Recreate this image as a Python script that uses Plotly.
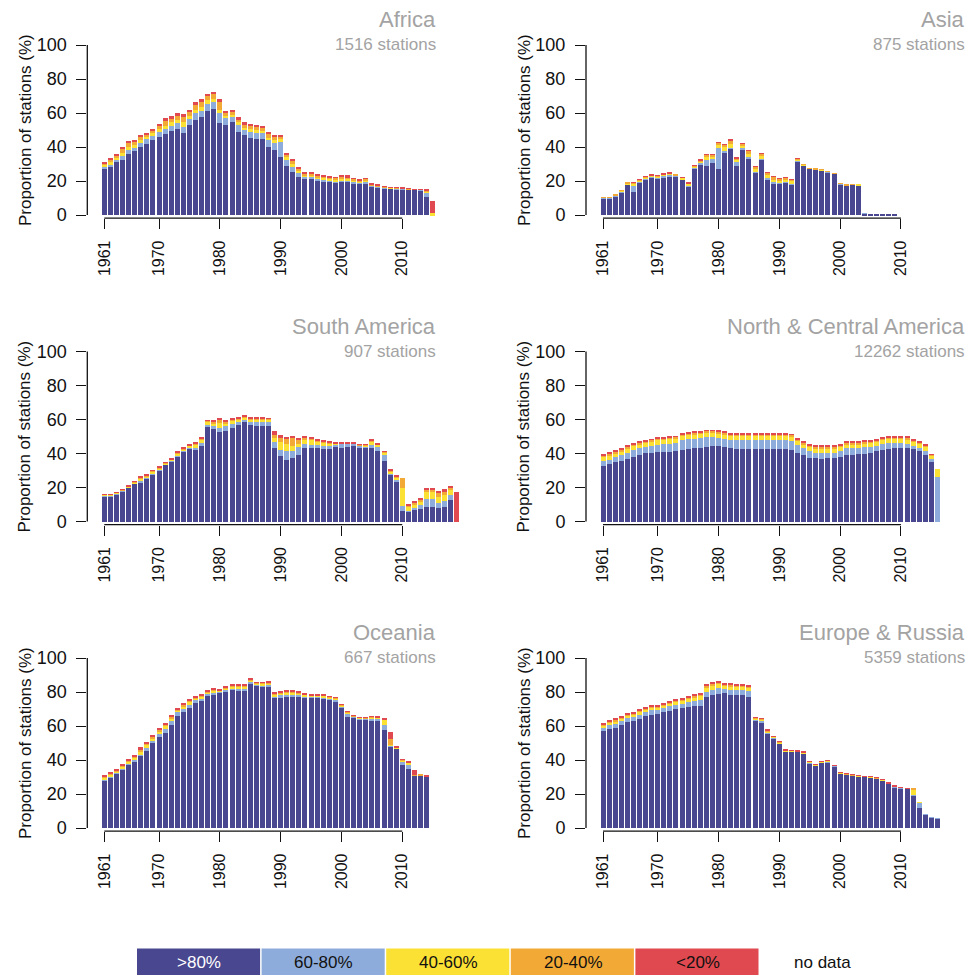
import plotly.graph_objects as go

# ---------------- data (percent of stations per class) ----------------
CATS = [">80%", "60-80%", "40-60%", "20-40%", "<20%"]
COLORS = ["#48478f", "#8eacdb", "#fbe134", "#f3a935", "#e0494f"]

africa_start = 1961
africa_d = [27, 28.5, 31, 32.5, 36, 37.5, 40, 42, 44, 46, 47.5, 49.5, 50.5, 48.5, 53, 56, 57.5, 61.5, 62.5, 54,
            53, 55, 49, 47, 45.5, 45, 44.5, 40, 38, 34, 29, 25.5, 22.5, 21, 21.5, 20.5, 20, 19.5, 19, 19.5,
            19.5, 18.5, 18.5, 18.5, 16.5, 16, 15.8, 15.5, 15.3, 15.2, 15, 14.8, 14.6, 10.5, 0]
africa_l = [1.5, 1.5, 1.5, 2.5, 2.5, 2, 2.5, 2.5, 2.5, 3, 3, 3, 3.5, 3.5, 3.5, 4, 4, 4, 4, 6,
            4, 2.5, 4, 3, 3.5, 3.5, 3.5, 4, 4.5, 9, 3.5, 3, 2.5, 1.5, 1, 1, 1, 1, 1, 1,
            1, 1, 0.8, 1, 0.8, 0.5, 0.3, 0.3, 0.3, 0.2, 0.2, 0.2, 0.2, 3, 0]
africa_y = [1, 1, 1, 1.5, 1.5, 1.5, 1.5, 1.5, 1.5, 1.5, 2, 2, 2, 2.5, 2, 2, 2, 2, 2, 2,
            1.5, 1.5, 1.5, 1.5, 1.5, 1.5, 1.5, 1.5, 1.5, 1.5, 1.5, 1.5, 1, 1, 0.8, 0.8, 0.8, 0.8, 0.8, 0.8,
            0.8, 0.8, 0.5, 0.8, 0.3, 0.3, 0.2, 0.2, 0.2, 0.2, 0.1, 0.1, 0.1, 0.5, 1]
africa_o = [1, 1.5, 1.5, 2.5, 2.5, 2.5, 2, 1.5, 2, 2, 3, 2.5, 2.5, 3, 2.5, 3, 3, 2.5, 2.5, 4.5,
            2, 2, 2, 2, 2, 2, 2, 2.5, 2, 2, 1.5, 2, 1.5, 1, 1, 1, 1, 1, 1, 1.2,
            1, 1, 0.8, 1, 0.5, 0.5, 0.3, 0.3, 0.2, 0.2, 0.2, 0.1, 0.1, 0.5, 0]
africa_r = [0.5, 0.5, 0.8, 0.8, 0.8, 0.8, 0.8, 0.8, 0.8, 0.8, 1.5, 1, 1.5, 2, 1, 1.5, 1.5, 1.5, 1.5, 2,
            1, 1, 1, 1, 1, 1, 1, 1, 1, 0.8, 0.8, 0.8, 1, 0.5, 0.5, 0.5, 0.5, 0.5, 0.5, 1,
            1, 0.5, 0.5, 0.5, 0.5, 0.5, 0.3, 0.2, 0.2, 0.2, 0.1, 0.1, 0.1, 0.3, 7]

asia_start = 1961
asia_d = [10, 10, 11, 13.5, 17.9, 13.8, 18.9, 20.8, 21.8, 21.6, 21.8, 22.8, 22.8, 20.8, 16.9, 27.5, 29.5, 28.7, 30.5, 27.1,
          37, 38.9, 28.7, 38.3, 33, 24.8, 32.4, 21.2, 18.7, 18.7, 19.3, 17.9, 31.6, 28.9, 27.1, 26.7, 26.3, 25.1, 24.2, 18.1,
          17.3, 17.7, 17.5, 1.1, 0.5, 0.5, 0.5, 0.5, 0.5]
asia_l = [0.1, 0.1, 0.3, 0.3, 0.3, 3, 0.6, 0.5, 0.6, 0.5, 1.2, 0.8, 0.3, 0.3, 0.6, 0.5, 1.2, 3.9, 2.5, 12.5,
          0.8, 0.8, 2.5, 1, 1.2, 0.5, 0.5, 0.5, 0.5, 0.4, 0.4, 0.5, 0.4, 0.3, 0.2, 0.2, 0.2, 0.3, 0.2, 0.3,
          0.2, 0.2, 0.1, 0.1, 0, 0, 0, 0, 0]
asia_y = [0.2, 0.2, 0.3, 0.5, 0.4, 1.8, 0.8, 1, 0.8, 0.7, 0.7, 0.6, 0.3, 0.7, 0.9, 0.6, 1, 2, 1.7, 1.5,
          2, 2.2, 1.2, 1.3, 2, 1.8, 2, 1.8, 1.6, 1.2, 1.2, 1.4, 0.7, 0.4, 0.1, 0.1, 0.1, 0.2, 0.1, 0.2,
          0.1, 0.1, 0.1, 0, 0, 0, 0, 0, 0]
asia_o = [0.1, 0.1, 0.2, 0.4, 0.3, 0.5, 0.4, 0.4, 0.3, 0.3, 0.4, 0.4, 0.2, 0.3, 0.4, 0.3, 0.5, 1, 1, 1.5,
          1.5, 2.2, 1, 1.4, 1.5, 1.4, 1.4, 1.4, 1.6, 1.1, 1.1, 1.2, 0.6, 0.3, 0.1, 0.1, 0.1, 0.1, 0.1, 0.1,
          0.1, 0.1, 0, 0, 0, 0, 0, 0, 0]
asia_r = [0, 0, 0, 0, 0, 0.2, 0.1, 0.1, 0.1, 0.1, 0.1, 0.2, 0, 0.1, 0.1, 0.1, 0.2, 0.3, 0.2, 0.2,
          0.2, 0.3, 0.2, 0.2, 0.2, 0.2, 0.2, 0.2, 0.2, 0.2, 0.2, 0.2, 0.1, 0, 0, 0, 0, 0, 0, 0,
          0, 0, 0, 0, 0, 0, 0, 0, 0]

sam_start = 1961
sam_d = [14.5, 14.7, 15.7, 17.6, 19.8, 21.8, 22.8, 25, 27.6, 29.6, 33, 34.9, 37.8, 40.8, 42.7, 42.2, 44.7, 55.9, 54.5, 52.5,
         53.5, 54.9, 56.9, 58.8, 57, 56, 56.3, 56.5, 43.3, 38.4, 36.3, 37.5, 39.4, 43.3, 43.3, 43.3, 42.7, 42.5, 43.7, 43.1,
         44.1, 44.3, 43.1, 43.1, 43.3, 41.4, 35.9, 27.1, 23.1, 6.1, 5.9, 6.5, 7.5, 8.8, 8.8, 8, 8.8, 12.4, 0]
sam_l = [0.4, 0.4, 0.5, 0.3, 0.2, 0.3, 0.8, 0.5, 0.5, 0.5, 0.4, 0.5, 0.7, 0.5, 0.6, 1.2, 1.5, 1.2, 1.5, 2.5,
         2.5, 2.3, 1.5, 1.2, 1.5, 2.5, 2.5, 2.2, 3.3, 3.7, 5.5, 4.3, 4.5, 2.4, 2, 1.5, 1.8, 1.8, 1.5, 2.4,
         1.5, 1.3, 1.3, 1, 1.5, 2.5, 3.3, 1, 1.5, 3.3, 0.5, 1.5, 2, 4.5, 4.5, 3, 3.3, 3.5, 0]
sam_y = [0.5, 0.5, 0.4, 0.3, 0.3, 0.6, 1.2, 0.8, 0.9, 0.9, 0.5, 0.6, 1, 0.8, 0.9, 1.5, 1.5, 1.2, 1.5, 2.8,
         1.5, 1.8, 1.2, 1.2, 1.2, 1.2, 1.2, 1, 2.4, 4.5, 3.9, 2.9, 1.5, 2.5, 2.5, 2, 1.8, 1.6, 0.5, 0.3,
         0.2, 0.2, 0.3, 0.5, 2.2, 1, 1, 1, 1, 10.4, 2.3, 2, 2.2, 3.9, 3.9, 3.5, 3.5, 2.5, 0]
sam_o = [0.2, 0.2, 0.3, 0.3, 0.3, 0.5, 0.7, 0.5, 0.5, 0.5, 0.4, 0.4, 0.6, 0.5, 0.5, 1, 1, 0.6, 0.8, 2,
         1.2, 1, 0.6, 0.6, 0.6, 0.6, 0.5, 0.4, 2, 2.5, 2.9, 4.3, 2.7, 1.2, 0.8, 0.7, 0.5, 0.4, 0.2, 0.1,
         0.1, 0.1, 0.2, 0.2, 0.6, 0.4, 0.5, 0.6, 0.7, 5.7, 0.4, 1, 1, 1.4, 1.4, 2, 2, 1.5, 0]
sam_r = [0.1, 0.1, 0.1, 0.3, 0.2, 0.3, 0.5, 0.5, 0.5, 0.5, 0.4, 0.5, 0.7, 0.5, 0.6, 1, 1.3, 0.5, 0.7, 1,
         0.7, 0.8, 0.6, 0.6, 0.5, 0.5, 0.5, 0.3, 2, 2, 1, 1.4, 1.1, 1.2, 0.8, 0.7, 0.5, 0.4, 0.1, 0.1,
         0.1, 0.1, 0.1, 0.2, 0.6, 0.4, 0.5, 0.7, 0.8, 0, 1, 1, 1.2, 1, 1, 1.3, 1.6, 1.3, 17.3]

nca_start = 1961
nca_d = [32.9, 33.9, 34.9, 35.9, 36.9, 38.2, 39.2, 40.2, 40.6, 40.8, 40.8, 41, 41.4, 42.2, 42.7, 43.1, 43.5, 44.1, 44.3, 44.3,
         44.1, 43.5, 42.7, 42.5, 42.5, 42.5, 42.5, 42.5, 42.7, 42.7, 42.7, 42.2, 40.4, 39, 37.5, 37.3, 36.9, 37.1, 37.3, 38.2,
         39.2, 39.4, 39.8, 40, 40.4, 41.4, 42.2, 42.7, 43.1, 43.1, 43.1, 42.5, 41.4, 39.4, 34.9, 0]
nca_l = [2.6, 2.6, 2.8, 3.1, 3.7, 3.8, 3.8, 3.7, 3.9, 4.5, 4.7, 4.9, 4.9, 5.7, 5.6, 5.6, 5.5, 5.7, 5.5, 5.1,
         4.7, 4.4, 5.2, 5.4, 5.4, 5.4, 5.4, 5.4, 5.2, 5.2, 5.2, 5.3, 4.5, 4, 3.9, 3.3, 3.7, 3.5, 3.3, 3.2,
         3.8, 3.6, 3.2, 3.6, 3.5, 3.1, 3.3, 3.6, 3.2, 3.2, 2.8, 2, 1.9, 2, 2, 26.5]
nca_y = [2.4, 2.3, 2.2, 2.2, 2.3, 2.2, 2.2, 2.2, 2.3, 2.4, 2.4, 2.4, 2.4, 2.4, 2.4, 2.4, 2.4, 2.4, 2.4, 2.4,
         2.3, 2.3, 2.3, 2.3, 2.3, 2.3, 2.3, 2.3, 2.3, 2.3, 2.3, 2.3, 2.2, 2.2, 2.2, 2.2, 2.2, 2.2, 2.2, 2.2,
         2.2, 2.2, 2.2, 2.2, 2.2, 2.2, 2.2, 2.2, 2.2, 2.2, 2.2, 2.2, 2.2, 2.2, 1.5, 4.5]
nca_o = [0.9, 0.9, 0.9, 0.9, 0.9, 0.9, 0.9, 0.9, 0.9, 0.9, 0.9, 0.9, 0.9, 0.9, 0.9, 0.9, 0.9, 0.9, 0.9, 1.0,
         1.0, 0.9, 0.9, 0.9, 0.9, 0.9, 0.9, 0.9, 0.9, 0.9, 0.9, 0.9, 0.9, 0.9, 0.9, 0.9, 0.9, 0.9, 0.9, 0.9,
         0.9, 0.9, 0.9, 0.9, 0.9, 0.9, 0.9, 0.9, 0.9, 0.9, 0.9, 0.9, 0.9, 0.9, 0.5, 0]
nca_r = [0.4, 0.5, 0.6, 0.6, 0.5, 0.6, 0.6, 0.6, 0.5, 0.4, 0.4, 0.4, 0.4, 0.4, 0.4, 0.4, 0.4, 0.4, 0.4, 0.3,
         0.4, 0.5, 0.5, 0.5, 0.5, 0.5, 0.5, 0.5, 0.5, 0.5, 0.5, 0.5, 0.6, 0.6, 0.6, 0.6, 0.6, 0.6, 0.6, 0.6,
         0.6, 0.6, 0.6, 0.6, 0.6, 0.6, 0.6, 0.6, 0.6, 0.6, 0.6, 0.6, 0.6, 0.6, 0.3, 0]

oce_start = 1961
oce_d = [27.9, 29.9, 31.9, 34.4, 37.2, 39.3, 42.6, 45.6, 49.9, 53.4, 55.9, 60.7, 66.2, 68.1, 70.5, 73.6, 74.6, 77.9, 78.8, 79.5,
         80.5, 81.5, 80.5, 80.9, 84.8, 83.8, 82.8, 83.4, 76.6, 77, 77.4, 77.5, 77.4, 76.6, 76.6, 76.6, 76, 75.6, 74.6, 70.7,
         65.2, 64.8, 64, 63.6, 63.2, 63.4, 57.7, 47.9, 46.6, 36.8, 34.8, 30.9, 30.9, 30.1]
oce_l = [0.8, 0.6, 0.8, 0.8, 0.7, 0.8, 0.6, 1.5, 1.5, 1.8, 2.5, 2.5, 1.8, 2, 2, 1.5, 1.5, 1, 1, 0.6,
         0.8, 0.8, 1.5, 1.2, 1.5, 0.6, 1.3, 1, 0.8, 1, 1.2, 1, 0.8, 0.7, 0.6, 0.6, 0.8, 0.6, 1, 0.8,
         2, 0.6, 0.5, 0.6, 1.2, 0.8, 3.1, 0.6, 0.3, 2.5, 2.8, 0, 0.2, 0.2]
oce_y = [1, 1, 0.7, 0.8, 1, 1.2, 1.7, 1.8, 1.5, 1.8, 1.8, 1.2, 1.2, 1.5, 1.7, 1.2, 1.2, 1, 1, 0.6,
         0.9, 1, 1.2, 1.2, 0.8, 0.6, 0.8, 0.9, 1.2, 1.2, 1, 1.2, 1.2, 1, 0.6, 0.6, 0.9, 0.6, 0.7, 0.6,
         0.7, 0.4, 0.3, 0.4, 0.6, 0.6, 2.8, 0.4, 0.2, 0.6, 0.8, 0, 0.1, 0.2]
oce_o = [0.5, 0.5, 0.5, 0.6, 0.6, 0.6, 0.8, 0.9, 0.7, 1, 0.8, 0.7, 0.8, 1, 1, 0.6, 0.6, 0.5, 0.6, 0.3,
         0.5, 0.6, 0.6, 0.6, 0.5, 0.4, 0.5, 0.5, 0.8, 0.8, 0.8, 0.7, 0.6, 0.5, 0.4, 0.4, 0.5, 0.4, 0.4, 0.3,
         0.4, 0.2, 0.2, 0.2, 0.4, 0.3, 0.5, 3.3, 0.2, 0.2, 0.2, 0.2, 0.1, 0.1]
oce_r = [0.5, 0.5, 0.5, 0.6, 0.6, 0.7, 1.8, 1.1, 0.8, 0.9, 0.9, 1.7, 0.7, 0.8, 0.8, 0.5, 0.6, 0.5, 0.5, 0.3,
         0.5, 0.5, 0.6, 0.5, 0.5, 0.4, 0.4, 0.4, 0.5, 0.5, 0.5, 0.5, 0.5, 0.5, 0.3, 0.3, 0.3, 0.3, 0.3, 0.2,
         0.4, 0.2, 0.2, 0.2, 0.4, 0.3, 0.5, 4.1, 0.6, 0.2, 0.7, 3.1, 0, 0.1]

eur_start = 1961
eur_d = [57, 58.5, 58.9, 60.7, 62.6, 63.2, 64.2, 66, 66.8, 67.2, 68.1, 69.1, 69.9, 70.7, 71.1, 71.7, 72.1, 77, 78.3, 78.9,
         79.5, 78.5, 78.5, 78.3, 77, 63.2, 62.3, 55.4, 52.5, 49.5, 45, 45, 44.8, 43.6, 38.1, 36.8, 38.3, 38.7, 36.4, 31.9,
         31.3, 30.9, 30.5, 30.1, 29.9, 29.1, 28.1, 26, 24, 23.4, 23, 19.1, 11.6, 7.7, 6.3, 5.8]
eur_l = [2, 2, 2.2, 2, 2, 2.2, 2.4, 2.2, 2.4, 2.2, 2.4, 2.5, 2.5, 2.4, 3, 3, 3.3, 3.3, 3.2, 3.4,
         2.6, 3, 2.8, 3, 3.5, 0.6, 0.8, 0.6, 0.5, 0.5, 0.3, 0.2, 0.2, 0.3, 0.3, 0.2, 0.2, 0.3, 0.2, 0.3,
         0.2, 0.1, 0.1, 0.1, 0.1, 0.1, 0.1, 0.2, 0.2, 0.2, 0.2, 0.5, 3.5, 0.2, 0.1, 0.1]
eur_y = [1.6, 1.6, 1.8, 1.7, 1.5, 1.6, 1.7, 1.7, 1.7, 1.6, 1.7, 1.8, 1.8, 1.7, 2.1, 2.2, 2.4, 2.6, 2.5, 2.5,
         2, 2, 1.8, 1.8, 2, 0.8, 0.8, 1, 0.6, 0.6, 0.4, 0.2, 0.2, 0.6, 0.6, 0.3, 0.4, 0.5, 0.3, 0.4,
         0.2, 0.2, 0.2, 0.2, 0.2, 0.2, 0.2, 0.2, 0.2, 0.2, 0.1, 3.3, 0.1, 0, 0, 0]
eur_o = [0.6, 0.6, 0.7, 0.6, 0.6, 0.6, 0.7, 0.7, 0.7, 0.6, 0.7, 0.7, 0.7, 0.7, 0.8, 0.9, 1, 0.9, 0.8, 0.8,
         0.6, 0.8, 0.8, 0.8, 0.8, 0.3, 0.4, 0.4, 0.2, 0.3, 0.2, 0.1, 0.1, 0.2, 0.2, 0.1, 0.1, 0.1, 0.1, 0.1,
         0.1, 0.05, 0.05, 0.05, 0.05, 0.05, 0.05, 0.1, 0.2, 0.1, 0.05, 0.1, 0, 0, 0, 0]
eur_r = [0.5, 0.5, 0.6, 0.6, 0.5, 0.5, 0.5, 0.5, 0.5, 0.5, 0.5, 0.5, 0.5, 0.5, 0.5, 0.5, 0.5, 0.6, 0.6, 0.6,
         0.5, 0.5, 0.5, 0.5, 0.5, 0.3, 0.3, 0.3, 0.2, 0.2, 0.1, 0.1, 0.1, 0.1, 0.1, 0.1, 0.1, 0.1, 0.1, 0.1,
         0.1, 0.05, 0.05, 0.05, 0.05, 0.05, 0.05, 0.1, 0.4, 0.1, 0.05, 0, 0, 0, 0, 0]

REGIONS = ["Africa", "Asia", "South America", "North & Central America", "Oceania", "Europe & Russia"]
STATIONS = ["1516 stations", "875 stations", "907 stations", "12262 stations", "667 stations", "5359 stations"]
SERIES = [
    (africa_start, [africa_d, africa_l, africa_y, africa_o, africa_r]),
    (asia_start, [asia_d, asia_l, asia_y, asia_o, asia_r]),
    (sam_start, [sam_d, sam_l, sam_y, sam_o, sam_r]),
    (nca_start, [nca_d, nca_l, nca_y, nca_o, nca_r]),
    (oce_start, [oce_d, oce_l, oce_y, oce_o, oce_r]),
    (eur_start, [eur_d, eur_l, eur_y, eur_o, eur_r]),
]
XTICKS = [1961, 1970, 1980, 1990, 2000, 2010]
YTICKS = [0, 20, 40, 60, 80, 100]
LEGEND_LABELS = [">80%", "60-80%", "40-60%", "20-40%", "<20%", "no data"]

# ---------------- layout geometry (pixels) ----------------
W, H = 973, 975
FONT = "Liberation Sans, Arial, sans-serif"
# the captured picture maps page y to 4.2 + 0.988*y; work in target-picture pixels
VS, VOFF = 0.988, 4.2


def ypx(target):
    return (target - VOFF) / VS


XR = [1958.2, 2020.0]
PX_PER_YEAR = 6.08
COL_LEFT = [87.3, 586.0]
TITLE_RIGHT = [438, 967]
YTITLE_X = [25, 524]
ZERO_Y = [214.3, 520.9, 827.5]     # target-picture y of the 0 % line
PX_PER_PCT = 1.70                  # target-picture px per percent
YR = [-1.8, 103.0]

fig = go.Figure()
layout = dict(
    width=W, height=H, margin=dict(l=0, r=0, t=0, b=0),
    paper_bgcolor="white", plot_bgcolor="white",
    barmode="stack", bargap=0.18, showlegend=False,
    font=dict(family=FONT, size=18, color="#111"),
)
annotations = []
shapes = []


def pfy(target):
    return (H - ypx(target)) / H


for i, (start, comps) in enumerate(SERIES):
    col, row = i % 2, i // 2
    n = len(comps[0])
    years = list(range(start, start + n))
    ax = "" if i == 0 else str(i + 1)
    xname, yname = "x" + ax, "y" + ax
    for k in range(5):
        fig.add_trace(go.Bar(x=years, y=comps[k], name=CATS[k], marker=dict(color=COLORS[k], line=dict(width=0)),
                             xaxis=xname, yaxis=yname, hoverinfo="x+y+name"))
    left = COL_LEFT[col]
    right = left + (XR[1] - XR[0]) * PX_PER_YEAR
    z = ZERO_Y[row]
    bottom = z - YR[0] * PX_PER_PCT
    top = z - YR[1] * PX_PER_PCT
    layout["xaxis" + ax] = dict(
        domain=[left / W, right / W], range=XR, anchor=yname,
        tickmode="array", tickvals=XTICKS, ticktext=[str(t) for t in XTICKS],
        tickangle=-90, ticks="outside", ticklen=10, tickwidth=1.3, tickcolor="#111",
        showline=False, showgrid=False, zeroline=False, ticklabelstandoff=5,
        tickfont=dict(size=16, color="#111", family=FONT), fixedrange=True,
    )
    layout["yaxis" + ax] = dict(
        domain=[pfy(bottom), pfy(top)], range=YR, anchor=xname,
        tickmode="array", tickvals=YTICKS, ticktext=[str(t) for t in YTICKS],
        ticks="outside", ticklen=10, tickwidth=1.3, tickcolor="#111",
        showline=False, showgrid=False, zeroline=False, ticklabelstandoff=6,
        tickfont=dict(size=18, color="#111", family=FONT), fixedrange=True,
    )
    # R-style axis lines (from first to last tick)
    shapes.append(dict(type="line", xref=xname + " domain", yref=yname, x0=0, x1=0, y0=0, y1=100,
                       line=dict(color="#111", width=1.3)))
    shapes.append(dict(type="line", xref=xname, yref=yname + " domain", x0=XTICKS[0], x1=XTICKS[-1], y0=0, y1=0,
                       line=dict(color="#111", width=1.3)))
    # y-axis title
    annotations.append(dict(text="Proportion of stations (%)", textangle=-90, xref="paper", yref="paper",
                            x=YTITLE_X[col] / W, y=pfy(z - 50 * PX_PER_PCT),
                            xanchor="center", yanchor="middle", showarrow=False,
                            font=dict(size=17, color="#111", family=FONT)))
    # panel titles
    annotations.append(dict(text=REGIONS[i], xref="paper", yref="paper", x=TITLE_RIGHT[col] / W,
                            y=pfy(z - 195.3), xanchor="right", yanchor="middle", showarrow=False,
                            font=dict(size=22, color="#a3a3a3", family=FONT)))
    annotations.append(dict(text=STATIONS[i], xref="paper", yref="paper", x=TITLE_RIGHT[col] / W,
                            y=pfy(z - 170.3), xanchor="right", yanchor="middle", showarrow=False,
                            font=dict(size=17, color="#a3a3a3", family=FONT)))

# ---------------- colour key at the bottom ----------------
KEY_LEFT, KEY_W, KEY_TOP, KEY_H = 137, 124.6, 948, 30
key_colors = COLORS + ["white"]
key_text_colors = ["white", "#111", "#111", "#111", "#111", "#111"]
for j, lab in enumerate(LEGEND_LABELS):
    x0 = KEY_LEFT + j * KEY_W
    shapes.append(dict(type="rect", xref="paper", yref="paper", x0=x0 / W, x1=(x0 + KEY_W - 1.5) / W,
                       y0=min(1.0, max(0.0, pfy(KEY_TOP + KEY_H))) - 0.02, y1=pfy(KEY_TOP),
                       fillcolor=key_colors[j], line=dict(width=0)))
    annotations.append(dict(text=lab, xref="paper", yref="paper", x=(x0 + KEY_W / 2) / W,
                            y=pfy(KEY_TOP + 14), xanchor="center", yanchor="middle", showarrow=False,
                            font=dict(size=17, color=key_text_colors[j], family=FONT)))

layout["annotations"] = annotations
layout["shapes"] = shapes
fig.update_layout(**layout)

# place the figure at the page origin (no default body margin / scrolling)
POST = ("document.body.style.margin='0';document.body.style.padding='0';"
        "document.body.style.overflow='hidden';"
        "var g=document.getElementById('{plot_id}');g.style.position='absolute';"
        "g.style.left='0px';g.style.top='0px';")
fig.write_html("out.html", post_script=POST, config={"displayModeBar": False})
